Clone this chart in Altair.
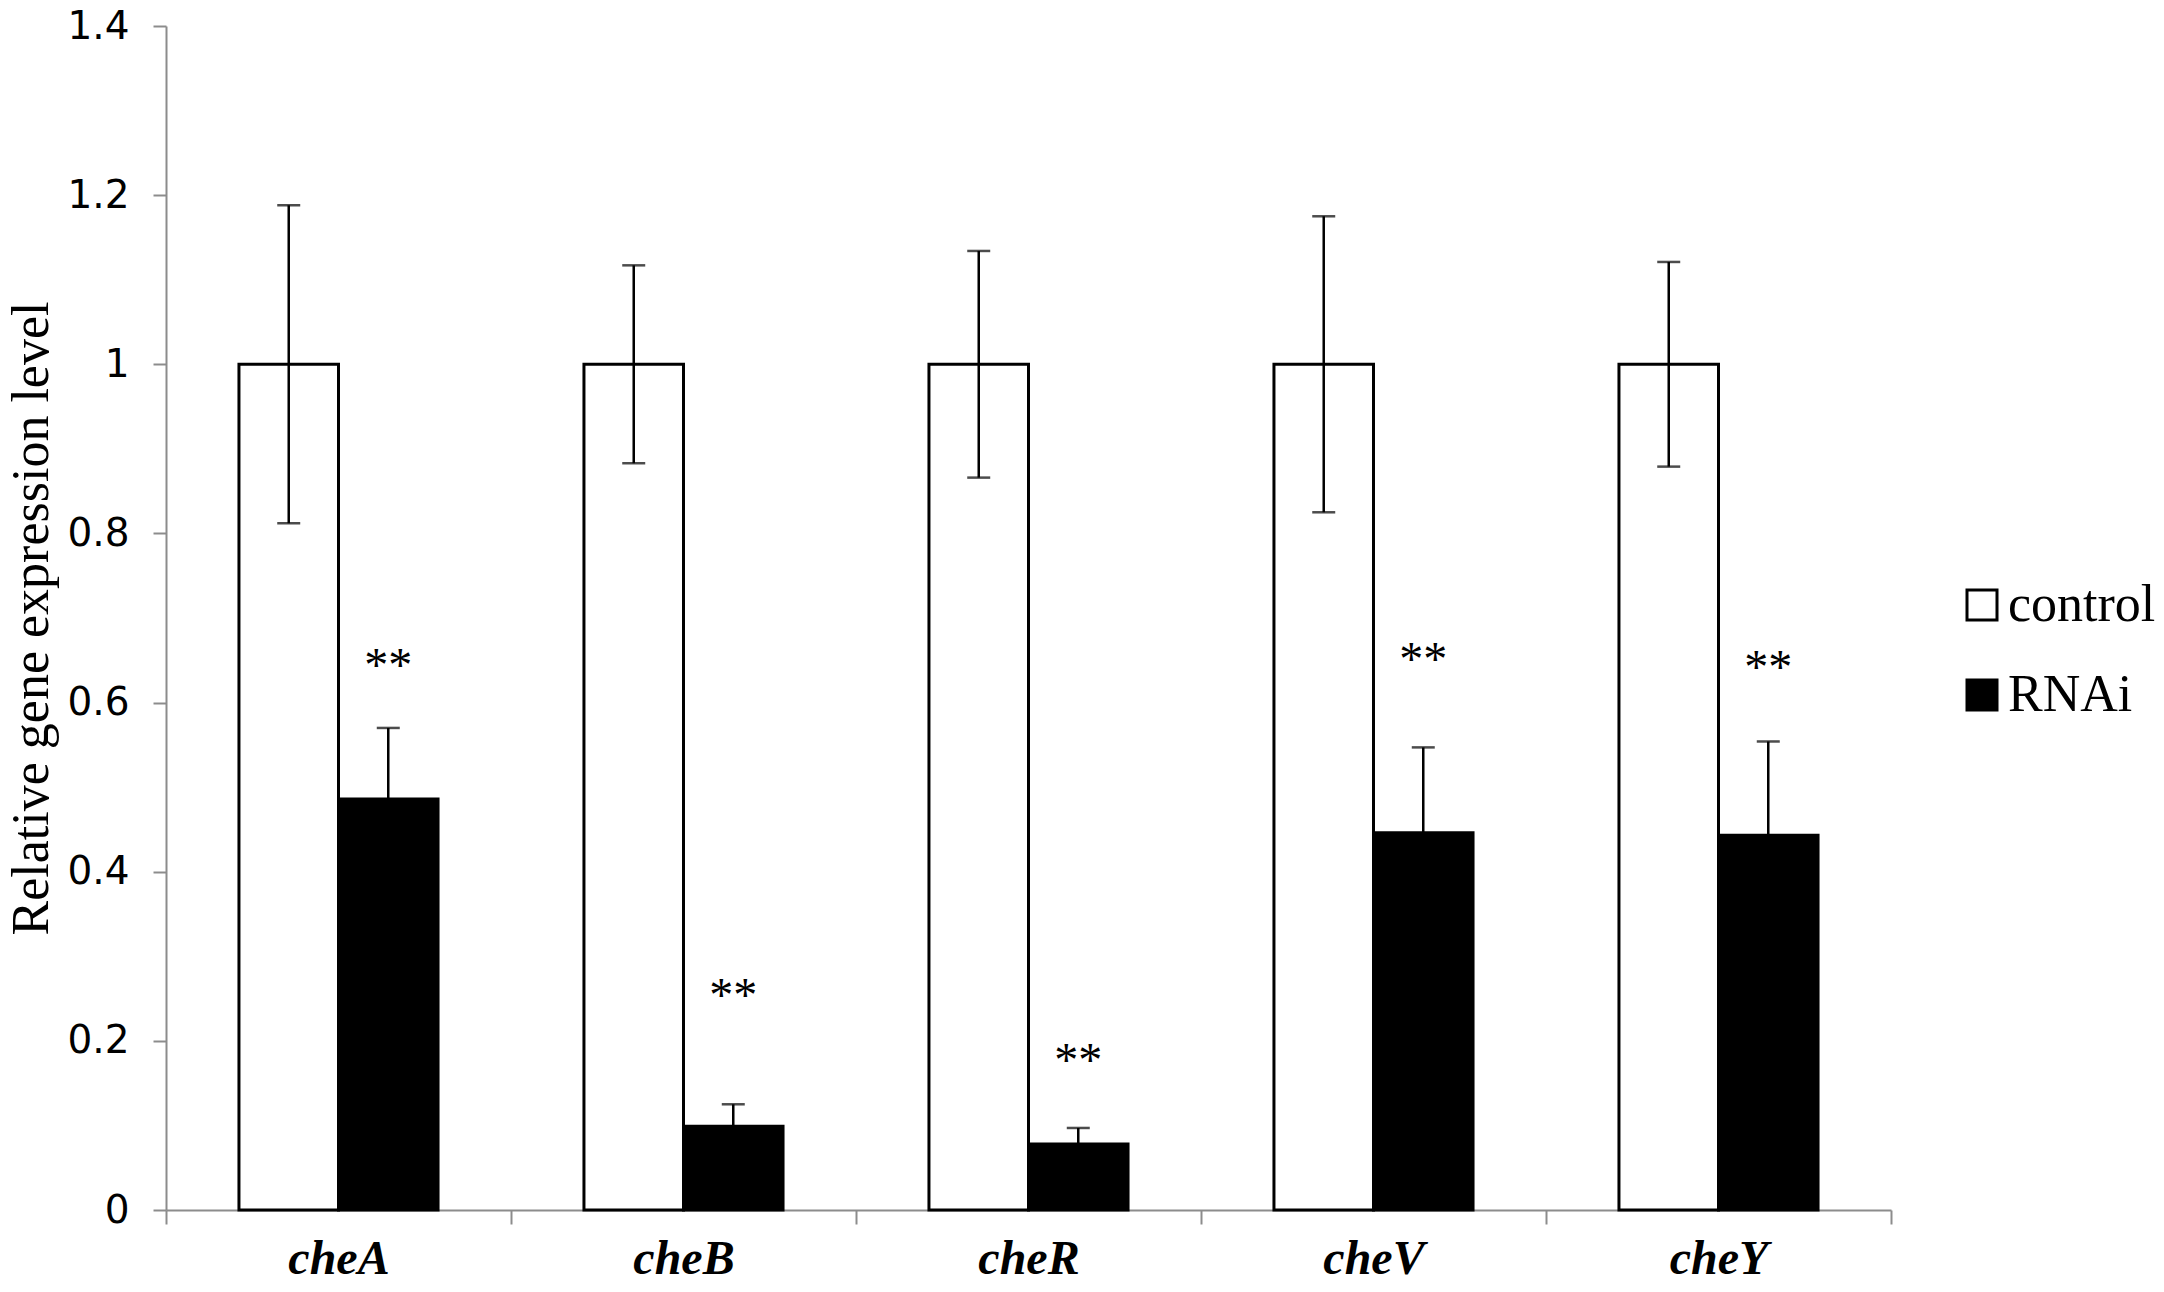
import altair as alt
import pandas as pd

# ---- data ----
genes = ["cheA", "cheB", "cheR", "cheV", "cheY"]
groups = ["control", "RNAi"]
control_mean = [1.0, 1.0, 1.0, 1.0, 1.0]
control_err = [0.188, 0.117, 0.134, 0.175, 0.121]
rnai_mean = [0.486, 0.099, 0.078, 0.446, 0.443]
rnai_err = [0.084, 0.026, 0.019, 0.101, 0.111]
star_labels = ["**", "**", "**", "**", "**"]
star_y = [0.652, 0.261, 0.185, 0.659, 0.649]
y_ticks = [0, 0.2, 0.4, 0.6, 0.8, 1.0, 1.2, 1.4]
y_title = "Relative gene expression level"

rows = []
for i, g in enumerate(genes):
    rows.append({"gene": g, "group": "control", "mean": control_mean[i], "err": control_err[i]})
    rows.append({"gene": g, "group": "RNAi", "mean": rnai_mean[i], "err": rnai_err[i]})
df = pd.DataFrame(rows)
df["lo"] = df["mean"] - df["err"]
df["hi"] = df["mean"] + df["err"]

stars = pd.DataFrame({"gene": genes, "group": ["RNAi"] * len(genes),
                      "y": star_y, "label": star_labels})

W, H = 1725, 1184
AXIS_GRAY = "#8c8c8c"

x_axis = alt.Axis(title=None, tickBand="extent", labelAngle=0,
                  labelFont="Liberation Serif", labelFontStyle="italic",
                  labelFontWeight="bold", labelFontSize=48, labelColor="black",
                  labelPadding=11, tickSize=14, tickWidth=2, tickColor=AXIS_GRAY,
                  domainColor=AXIS_GRAY, domainWidth=2)
y_axis = alt.Axis(values=y_ticks, format=".1~f", grid=False,
                  labelFont="DejaVu Sans", labelFontSize=39,
                  labelColor="black", labelPadding=24, tickSize=13, tickWidth=2,
                  tickColor=AXIS_GRAY, domainColor=AXIS_GRAY, domainWidth=2,
                  titleFont="Liberation Serif", titleFontSize=52,
                  titleFontWeight="normal", titleColor="black", titlePadding=8)

x_enc = alt.X("gene:N", sort=genes,
              scale=alt.Scale(domain=genes, paddingInner=0, paddingOuter=0),
              axis=x_axis)
xo_enc = alt.XOffset("group:N", sort=groups,
                     scale=alt.Scale(domain=groups, paddingInner=0, paddingOuter=0.733))
y_scale = alt.Scale(domain=[0, 1.4], nice=False, zero=True)

base = alt.Chart(df)

bars = base.mark_bar(stroke="black", strokeWidth=3).encode(
    x=x_enc, xOffset=xo_enc,
    y=alt.Y("mean:Q", scale=y_scale, axis=y_axis, title=y_title),
    fill=alt.Fill("group:N", sort=groups,
                  scale=alt.Scale(domain=groups, range=["white", "black"]),
                  legend=alt.Legend(title=None, orient="none", legendX=1790, legendY=553,
                                    symbolType="square", symbolSize=900,
                                    symbolStrokeColor="black", symbolStrokeWidth=3,
                                    labelFont="Liberation Serif", labelFontSize=52,
                                    labelColor="black", labelOffset=0, rowPadding=38)),
)

err_rule = base.mark_rule(color="black", strokeWidth=2.5).encode(
    x=x_enc, xOffset=xo_enc,
    y=alt.Y("lo:Q", scale=y_scale, axis=y_axis, title=y_title),
    y2="hi:Q",
)
cap_hi = base.mark_tick(color="black", size=23, thickness=2.5, orient="horizontal").encode(
    x=x_enc, xOffset=xo_enc,
    y=alt.Y("hi:Q", scale=y_scale, axis=y_axis, title=y_title),
)
cap_lo = base.mark_tick(color="black", size=23, thickness=2.5, orient="horizontal").encode(
    x=x_enc, xOffset=xo_enc,
    y=alt.Y("lo:Q", scale=y_scale, axis=y_axis, title=y_title),
)

star_text = alt.Chart(stars).mark_text(font="Liberation Serif", fontSize=48,
                                        color="black", baseline="middle", dy=8).encode(
    x=x_enc, xOffset=xo_enc,
    y=alt.Y("y:Q", scale=y_scale, axis=y_axis, title=y_title),
    text="label:N",
)

chart = alt.layer(bars, err_rule, cap_hi, cap_lo, star_text).properties(
    width=W, height=H,
    autosize=alt.AutoSizeParams(type="none"),
    padding={"left": 158, "top": 18, "right": 265, "bottom": 74},
    background="white",
).configure_view(stroke=None)

chart.save("out.html", embed_options={"renderer": "svg", "actions": False})
